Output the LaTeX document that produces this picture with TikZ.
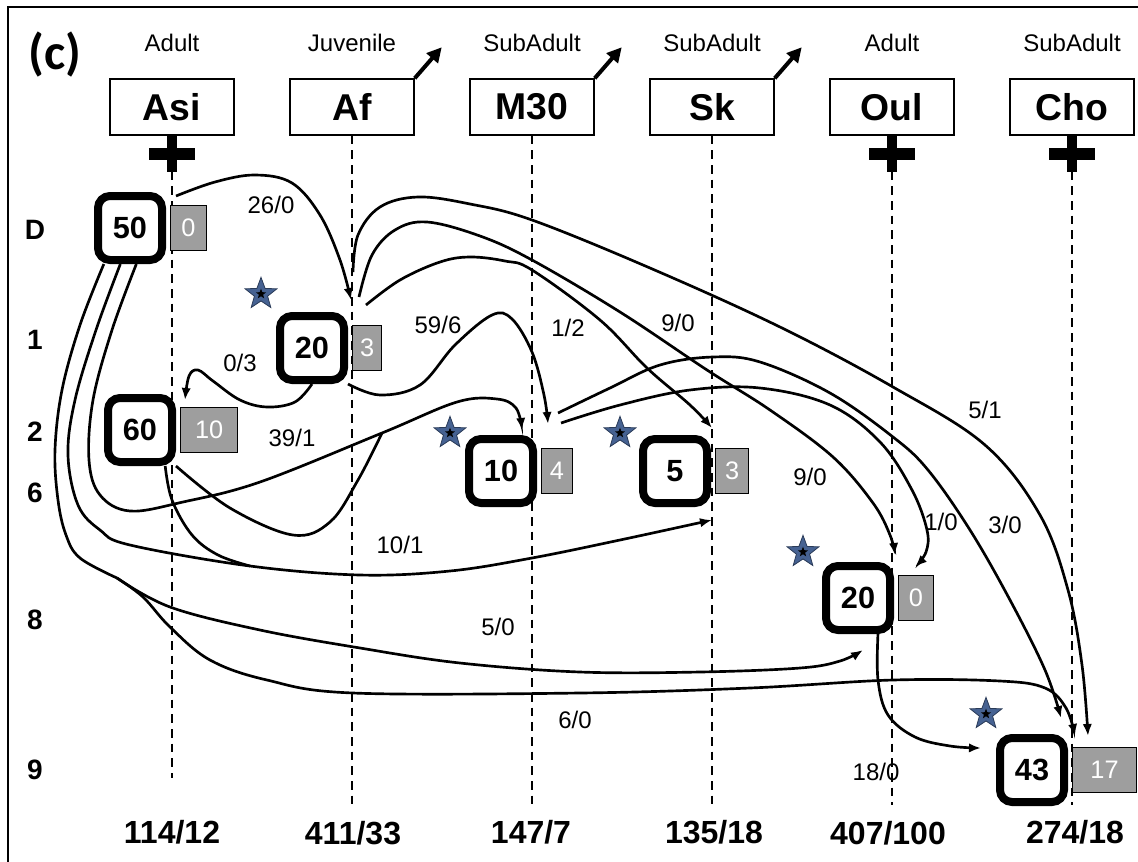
\documentclass[tikz,border=0pt]{standalone}
\usepackage{fontspec}
\setmainfont{Liberation Sans}
\newfontfamily\tagfont{Carlito}
\usetikzlibrary{arrows.meta, calc, positioning, shapes.geometric}
\definecolor{countgray}{RGB}{158,158,158}
\definecolor{starblue}{RGB}{70,98,146}

\begin{document}
\begin{tikzpicture}[x=0.75pt, y=-0.75pt,
  hdr/.style={draw, line width=1.1pt, minimum width=93pt, minimum height=42pt, inner sep=0pt, font=\fontsize{28}{30}\selectfont\bfseries},
  stage/.style={font=\fontsize{18}{20}\selectfont},
  event/.style={draw, line width=6pt, rounded corners=9pt, fill=white, minimum size=48pt, inner sep=0pt, font=\fontsize{23}{25}\selectfont\bfseries},
  count/.style={draw, line width=0.8pt, fill=countgray, text=white, minimum height=34pt, inner sep=1pt, font=\fontsize{19}{21}\selectfont},
  flow/.style={line width=2pt, -{Latex[length=9pt, width=7pt]}},
  merge/.style={line width=2pt},
  flowlbl/.style={font=\fontsize{18}{20}\selectfont, inner sep=1pt},
  rowlbl/.style={font=\fontsize{21}{23}\selectfont\bfseries},
  total/.style={font=\fontsize{24}{26}\selectfont\bfseries},
  guide/.style={line width=1.3pt, dash pattern=on 6.5pt off 4.5pt},
  killmark/.style={line width=9pt},
  leaves/.style={line width=3pt, -{Triangle[length=11pt, width=11pt]}},
  newstar/.style={star, star points=5, star point ratio=2.4, fill=starblue, draw=starblue!60!black, line width=0.6pt, minimum size=25pt, inner sep=0pt},
  starcore/.style={star, star points=5, star point ratio=2.4, fill=black, minimum size=8pt, inner sep=0pt}]
\useasboundingbox (0,0) rectangle (1138,861);
\draw[line width=1.5pt] (8,870) -- (8,7) -- (1145,7);
\node[font=\tagfont\fontsize{38}{40}\selectfont\bfseries] (tag) at (55,55) {(c)};

% individuals
\foreach \n/\lab/\st/\x in {asi/Asi/Adult/172, af/Af/Juvenile/352, mth/M30/SubAdult/532, sk/Sk/SubAdult/712, oul/Oul/Adult/892, cho/Cho/SubAdult/1072} {
  \node[hdr] (\n) at (\x,107) {\lab};
  \node[stage] (\n-st) at (\x,43) {\st};
}
\foreach \n in {asi,oul,cho} {
  \draw[killmark] ($(\n.south)+(-23,18)$) -- ($(\n.south)+(23,18)$);
  \draw[killmark, line width=7.5pt] (\n.south) -- ($(\n.south)+(0,36)$);
}
\foreach \n in {af,mth,sk}
  \draw[leaves] (\n.north east) -- ++(27,-31);

% time lines
\coordinate (base) at (0,805);
\coordinate (baseAsi) at (0,778);
\draw[guide] ($(asi.south)+(0,36)$) -- (asi.south |- baseAsi);
\foreach \n in {af,mth,sk}
  \draw[guide] (\n.south) -- (\n.south |- base);
\foreach \n in {oul,cho}
  \draw[guide] ($(\n.south)+(0,36)$) -- (\n.south |- base);

\foreach \t/\y [count=\i] in {D/230, 1/340, 2/432, 6/493, 8/620, 9/770}
  \node[rowlbl] (row\i) at (35,\y) {\t};

\node[total] (tot1) at (172,832) {114/12};
\node[total] (tot2) at (353,833) {411/33};
\node[total] (tot3) at (531,832) {147/7};
\node[total] (tot4) at (714,832) {135/18};
\node[total] (tot5) at (888,833) {407/100};
\node[total] (tot6) at (1075,832) {274/18};

% sampling events
\node[event] (e50) at (130,228) {50};
\node[count, minimum width=27pt, right=3pt of e50] (g50) {0};
\node[event] (e20) at (312,348) {20};
\node[count, minimum width=22pt, right=3pt of e20] (g20) {3};
\node[event] (e60) at (140,430) {60};
\node[count, minimum width=43pt, right=3pt of e60] (g60) {10};
\node[event] (e10) at (501,471) {10};
\node[count, minimum width=23pt, right=3pt of e10] (g10) {4};
\node[event] (e5) at (675,471) {5};
\node[count, minimum width=25pt, right=3pt of e5] (g5) {3};
\node[event] (eO) at (858,598) {20};
\node[count, minimum width=26pt, right=3pt of eO] (gO) {0};
\node[event] (e43) at (1032,770) {43};
\node[count, minimum width=48pt, right=3pt of e43] (g43) {17};

\foreach \x/\y [count=\i] in {261/294, 450/433, 620/433, 803/552, 986/714} {
  \node[newstar] (st\i) at (\x,\y) {};
  \node[starcore] (sc\i) at (\x,\y) {};
}

% end points on the time lines
\coordinate (asiTop) at (176,196);
\coordinate (afIn) at (351,300);
\coordinate (afOutA) at (353,272);
\coordinate (afOutB) at (359,297);
\coordinate (afOutC) at (366,305);
\coordinate (a60In) at (185,400);
\coordinate (mthInA) at (522,430);
\coordinate (mthInB) at (548,424);
\coordinate (mthOutA) at (558,413);
\coordinate (mthOutB) at (561,423);
\coordinate (skInA) at (712,428);
\coordinate (skInB) at (712,520);
\coordinate (oulInA) at (895,555);
\coordinate (oulInB) at (915,567);
\coordinate (oulInC) at (863,650);
\coordinate (choInA) at (1061,718);
\coordinate (choInB) at (1075,736);
\coordinate (choInC) at (1088,736);
\coordinate (c43In) at (981,748);
\coordinate (mergeA) at (382,433);
\coordinate (mergeB) at (250,566);
\coordinate (split) at (117,578);

% transfers
\draw[flow] plot[smooth, tension=0.6] coordinates {(asiTop) (215,182) (255,175) (292,183) (320,215) (340,260) (afIn)};
\draw[flow] plot[smooth, tension=0.6] coordinates {(afOutA) (358,235) (380,207) (418,197) (470,204) (532,220) (650,268) (780,327) (893,387) (985,445) (1040,515) (1068,590) (1082,665) (choInC)};
\draw[flow] plot[smooth, tension=0.6] coordinates {(afOutB) (372,255) (395,230) (427,222) (480,236) (532,260) (620,312) (707,370) (770,410) (833,457) (873,503) (890,535) (oulInA)};
\draw[flow] plot[smooth, tension=0.6] coordinates {(afOutC) (400,280) (440,262) (470,257) (505,261) (532,270) (600,320) (647,368) (690,405) (skInA)};
\draw[flow] plot[smooth, tension=0.6] coordinates {(e20.south east) (380,395) (420,385) (455,345) (492,315) (512,319) (532,352) (544,395) (mthInB)};
\draw[flow] plot[smooth, tension=0.6] coordinates {(e20.south) (295,402) (267,407) (240,400) (213,381) (198,370) (189,376) (a60In)};
\draw[flow] plot[smooth, tension=0.6] coordinates {(e50.280) (112,330) (93,400) (89,460) (100,495) (130,511) (183,502) (260,482) (mergeA) (457,402) (497,399) (516,408) (mthInA)};
\draw[merge] plot[smooth, tension=0.6] coordinates {(e60.south east) (230,508) (293,535) (330,522) (358,480) (mergeA)};
\draw[flow] plot[smooth, tension=0.6] coordinates {(e50.255) (96,330) (75,400) (68,455) (78,505) (100,530) (130,545) (mergeB) (360,575) (450,571) (532,558) (620,540) (skInB)};
\draw[merge] plot[smooth, tension=0.6] coordinates {(e60.305) (172,500) (192,535) (218,555) (mergeB)};
\draw[merge] plot[smooth, tension=0.6] coordinates {(e50.234) (80,325) (62,390) (55,450) (58,500) (66,535) (80,558) (split)};
\draw[flow] plot[smooth, tension=0.6] coordinates {(split) (170,607) (260,630) (360,648) (460,663) (580,672) (700,672) (800,668) (840,661) (oulInC)};
\draw[flow] plot[smooth, tension=0.6] coordinates {(split) (143,597) (170,627) (210,660) (267,680) (353,693) (580,693) (750,688) (893,680) (1000,681) (1045,688) (1066,708) (choInB)};
\draw[flow] plot[smooth, tension=0.6] coordinates {(mthOutA) (610,388) (660,365) (713,357) (760,362) (830,393) (893,437) (928,470) (970,530) (1010,600) (1045,670) (choInA)};
\draw[flow] plot[smooth, tension=0.6] coordinates {(mthOutB) (620,405) (690,390) (760,388) (830,405) (880,442) (912,490) (927,530) (926,552) (oulInB)};
\draw[flow] plot[smooth, tension=0.6] coordinates {(eO.299) (878,680) (888,715) (915,737) (950,746) (c43In)};

\node[flowlbl] (l1) at (271,205) {26/0};
\node[flowlbl] (l2) at (240,363) {0/3};
\node[flowlbl] (l3) at (438,325) {59/6};
\node[flowlbl] (l4) at (568,328) {1/2};
\node[flowlbl] (l5) at (678,323) {9/0};
\node[flowlbl] (l6) at (292,438) {39/1};
\node[flowlbl] (l7) at (985,410) {5/1};
\node[flowlbl] (l8) at (810,477) {9/0};
\node[flowlbl] (l9) at (941,522) {1/0};
\node[flowlbl] (l10) at (1005,525) {3/0};
\node[flowlbl] (l11) at (400,545) {10/1};
\node[flowlbl] (l12) at (498,627) {5/0};
\node[flowlbl] (l13) at (575,720) {6/0};
\node[flowlbl] (l14) at (876,772) {18/0};
\end{tikzpicture}
\end{document}
